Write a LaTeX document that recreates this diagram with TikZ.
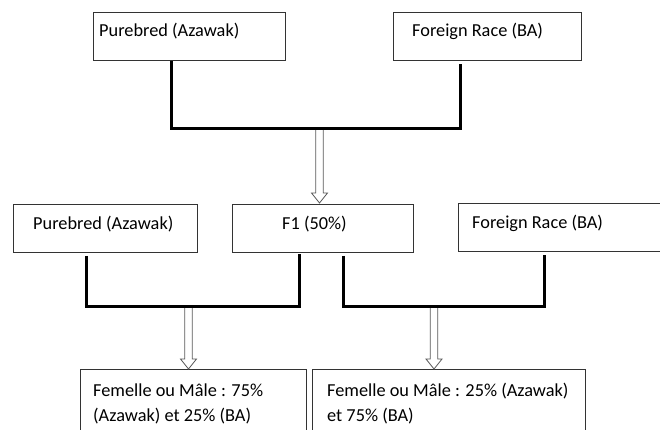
\documentclass[tikz,border=0pt]{standalone}
\usepackage{fontspec}
\setmainfont{Carlito}
\usetikzlibrary{positioning,calc}

\tikzset{
  box/.style={draw=black!80, line width=0.8pt, anchor=north west, inner sep=0pt, minimum height=48pt},
  txt/.style={anchor=base west, inner sep=0pt, align=left, font=\fontsize{18.3}{25}\selectfont},
  bar/.style={line width=3pt, line join=miter},
  hollow/.style={draw=black!65, line width=0.8pt, fill=white, line join=miter}
}

% hollow arrow from #1 down to #2
\newcommand{\hollowarrow}[2]{%
  \draw[hollow] ($(#1)+(-3.8,0)$) -- ($(#2)+(-3.8,-10)$) -- ($(#2)+(-8,-10)$) -- (#2)
    -- ($(#2)+(8,-10)$) -- ($(#2)+(3.8,-10)$) -- ($(#1)+(3.8,0)$);
}

\begin{document}
\begin{tikzpicture}[x=1pt,y=-1pt]
\useasboundingbox (0,0) rectangle (660,429);
\clip (0,0) rectangle (660,429);

% first cross
\node[box, minimum width=192pt] (pa) at (93,12) {};
\node[txt] (pa-t) at ($(pa.north west)+(6,24)$) {Purebred (Azawak)};
\node[box, minimum width=188pt] (fa) at (393,12) {};
\node[txt] (fa-t) at ($(fa.north west)+(19,24)$) {Foreign Race (BA)};

% second row
\node[box, minimum width=184pt] (pb) at (13,204) {};
\node[txt] (pb-t) at ($(pb.north west)+(20,25)$) {Purebred (Azawak)};
\node[box, minimum width=181pt] (f1) at (232,204) {};
\node[txt] (f1-t) at ($(f1.north west)+(50,25)$) {F1 (50\%)};
\node[box, minimum width=210pt] (fb) at (458,203) {};
\node[txt] (fb-t) at ($(fb.north west)+(14,25)$) {Foreign Race (BA)};

% results
\node[box, minimum width=226pt, minimum height=70pt] (ra) at (80,369) {};
\node[txt] (ra-t) at ($(ra.north west)+(13,52)$) {Femelle ou Mâle : 75\%\\(Azawak) et 25\% (BA)};
\node[box, minimum width=273pt, minimum height=70pt] (rb) at (312,369) {};
\node[txt] (rb-t) at ($(rb.north west)+(15,52)$) {Femelle ou Mâle : 25\% (Azawak)\\et 75\% (BA)};

\coordinate (m1) at (319.5,128);
\coordinate (m2) at (188.5,306.5);
\coordinate (m3) at (434,306.5);

\hollowarrow{m1}{$(m1 |- f1.north)+(0,-1)$}
\hollowarrow{m2}{$(m2 |- ra.north)$}
\hollowarrow{m3}{$(m3 |- rb.north)$}

\draw[bar] ($(pa.south west)+(78,0)$) |- (m1) -| ($(fa.south west)+(67,3)$);
\draw[bar] ($(pb.south west)+(73,3)$) |- (m2) -| ($(f1.south west)+(67,1)$);
\draw[bar] ($(f1.south west)+(111,3)$) |- (m3) -| ($(fb.south west)+(86,3)$);
\end{tikzpicture}
\end{document}
